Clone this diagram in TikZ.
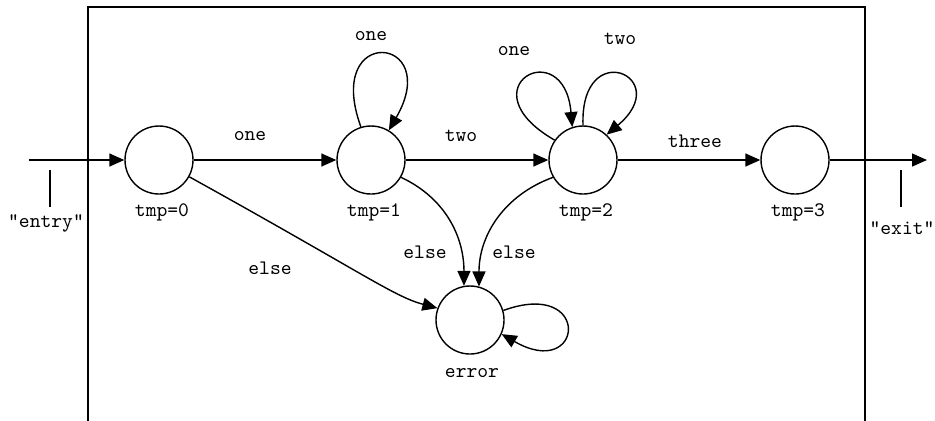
\documentclass[tikz,border=0pt]{standalone}
\usetikzlibrary{arrows.meta}

\begin{document}
\begin{tikzpicture}[x=0.5pt, y=0.5pt]
    \tikzset{state/.style = {shape=circle, draw, line width=0.7pt, minimum size=34pt, inner sep=0pt}}
    \tikzset{edge/.style = {draw, line width=0.7pt, -{Triangle[length=7.5pt, width=6.5pt]}}}
    \tikzset{lbl/.style = {font=\ttfamily\fontsize{10.3}{11}\selectfont, inner sep=0pt}}
    \useasboundingbox (0,0) rectangle (935,-420);
    \draw[line width=0.7pt] (88,-7) rectangle (865,-440);

    % vertices
    \node[state] (t0) at (159,-160) {};
    \node[state] (t1) at (371,-160) {};
    \node[state] (t2) at (583,-160) {};
    \node[state] (t3) at (795,-160) {};
    \node[state] (err) at (470,-320) {};
    \node[lbl] (n0) at (162,-212) {tmp=0};
    \node[lbl] (n1) at (374,-212) {tmp=1};
    \node[lbl] (n2) at (586,-212) {tmp=2};
    \node[lbl] (n3) at (798,-212) {tmp=3};
    \node[lbl] (ne) at (472,-373) {error};
    \node[lbl] (entry) at (46,-223) {"entry"};
    \node[lbl] (exit) at (902,-228) {"exit"};
    \coordinate (in) at (29,-160);
    \coordinate (out) at (927,-160);
    \coordinate (pin0a) at (50,-170);
    \coordinate (pin0b) at (50,-207);
    \coordinate (pin1a) at (901,-170);
    \coordinate (pin1b) at (901,-207);

    % edges
    \draw [edge] (in) -- (t0);
    \draw [edge] (t3) -- (out);
    \draw [line width=0.7pt] (pin0a) -- (pin0b);
    \draw [line width=0.7pt] (pin1a) -- (pin1b);
    \draw [edge] (t0) -- (t1);
    \draw [edge] (t1) -- (t2);
    \draw [edge] (t2) -- (t3);
    \draw [edge] (t0.-29) .. controls +(-29:200) and +(165:45) .. (err.160);
    \draw [edge] (t1.-30) to[out=-25, in=90] (err.100);
    \draw [edge] (t2.210) to[out=200, in=90] (err.75);
    \draw [edge] (t1.107) .. controls +(110:110) and +(60:110) .. (t1.59);
    \draw [edge] (t2.145) .. controls +(150:105) and +(95:95) .. (t2.108);
    \draw [edge] (t2.90) .. controls +(92:90) and +(40:90) .. (t2.47);
    \draw [edge] (err.16) .. controls +(20:95) and +(-30:95) .. (err.-24);

    % edge labels
    \node[lbl] (l01) at (250,-136) {one};
    \node[lbl] (l12) at (461,-136) {two};
    \node[lbl] (l23) at (695,-141) {three};
    \node[lbl] (l11) at (371,-36) {one};
    \node[lbl] (l22a) at (514,-51) {one};
    \node[lbl] (l22b) at (620,-39) {two};
    \node[lbl] (l0e) at (270,-268) {else};
    \node[lbl] (l1e) at (425,-252) {else};
    \node[lbl] (l2e) at (514,-252) {else};
\end{tikzpicture}
\end{document}
